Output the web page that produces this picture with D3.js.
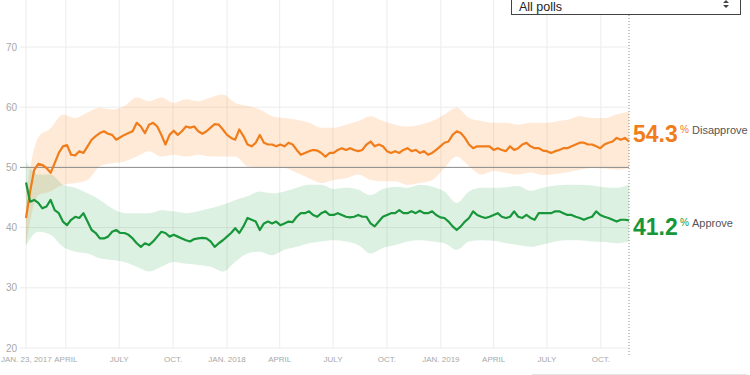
<!DOCTYPE html>
<html>
<head>
<meta charset="utf-8">
<script src="https://cdn.jsdelivr.net/npm/d3@7"></script>
<style>
  body { margin: 0; background: #fff; }
  svg { display: block; font-family: "Liberation Sans", Arial, sans-serif; }
</style>
</head>
<body>
<svg id="chart" width="750" height="375"></svg>
<script>
// Weekly averages starting Jan 23, 2017
const startDate = new Date(2017, 0, 23);
const approve = [
  47.5,44.3,44.6,44.1,43.2,43.5,44.6,42.9,42.4,41.0,
  40.4,41.3,41.8,41.6,42.4,41.0,39.6,39.1,38.2,38.2,
  38.5,39.3,39.6,39.1,39.1,38.8,38.2,37.4,36.8,37.4,
  37.1,37.7,38.5,39.3,39.1,38.5,38.8,38.5,38.2,37.9,
  37.7,38.1,38.2,38.3,38.2,37.7,36.8,37.4,37.9,38.5,
  39.1,39.9,39.1,40.2,41.6,41.3,41.0,39.6,40.7,41.0,
  40.7,41.0,40.4,40.7,41.0,40.9,41.8,42.4,42.4,42.7,
  42.1,41.8,42.4,42.7,42.1,42.1,42.4,42.1,41.8,41.7,
  41.8,42.1,41.8,41.8,40.7,40.2,41.0,41.8,42.1,42.4,
  42.4,42.9,42.4,42.4,42.7,42.4,42.8,42.4,42.4,42.7,
  42.1,41.7,41.6,41.0,40.2,39.6,40.2,41.0,41.6,42.7,
  42.1,41.8,41.6,41.8,42.1,42.4,41.8,41.6,41.8,42.7,
  41.8,41.6,42.1,41.6,41.3,42.4,42.4,42.4,42.4,42.7,
  42.7,42.4,42.1,42.1,41.8,41.6,41.3,41.6,41.8,42.7,
  42.1,41.8,41.6,41.3,41.0,41.3,41.3,41.2
];
const disapprove = [
  41.6,46.0,49.6,50.6,50.4,49.9,49.1,50.7,52.4,53.5,
  53.7,52.1,52.0,52.7,52.4,53.5,54.6,55.2,55.7,56.0,
  55.6,55.4,54.6,55.0,55.4,55.7,56.0,57.4,56.8,55.7,
  57.1,57.4,56.8,55.4,53.8,55.4,56.1,55.4,56.0,56.8,
  56.6,56.8,56.0,55.6,56.0,56.6,57.2,57.1,56.3,55.4,
  54.9,54.6,56.3,55.2,53.8,53.5,54.1,55.4,54.1,53.8,
  53.8,53.5,53.8,53.5,54.1,53.8,52.9,52.1,52.4,52.7,
  52.9,52.8,52.4,51.8,52.4,52.4,52.9,53.2,52.9,53.2,
  52.9,52.7,52.9,53.8,54.3,53.5,53.8,53.5,52.7,52.4,
  52.7,52.4,52.9,53.2,52.7,52.9,52.4,52.7,52.1,52.4,
  52.9,53.5,54.1,54.3,55.4,56.0,55.7,54.9,53.8,53.2,
  53.5,53.5,53.5,53.5,52.9,53.2,52.9,52.7,53.5,52.9,
  53.2,53.8,54.1,53.5,53.2,53.2,52.8,52.7,52.4,52.7,
  52.9,53.2,53.2,53.5,53.8,54.1,54.1,53.8,53.8,53.5,
  53.2,53.8,54.1,54.3,54.9,54.6,54.9,54.3
];

// Uncertainty bands, one value every 3 weeks
const disapproveHigh = [46,55,56.5,58.8,58.2,59.1,59.9,59.6,60.2,61.6, 61,61.6,60.7,61.3,61,61.6,62.1,60.7,60.2,59.6,
  58.5,58.2,57.9,57.4,56.6,56.6,57.1,57.7,58.5,57.7, 57.1,56.8,57.1,57.7,58.8,59.9,58.2,57.7,57.4,57.4,
  57.1,57.4,57.4,57.6,57.9,58.5,58.2,58.2,58.8,59.3];
const disapproveLow = [37,45.4,46,47.1,47.4,47.9,50.2,50.7,51,51.8, 52.7,51.8,52.1,51.8,52.1,51.8,51.8,51.8,50.2,50,
  49.9,49.9,49.1,48.2,47.4,47.9,48.2,48.8,47.9,47.7, 47.7,47.1,47.4,47.9,49.9,51.8,50.2,48.8,49.4,49.1,
  48.8,49.2,48.7,48.9,49.2,49.6,49.9,49.8,49.6,49.9];
const approveHigh = [51,48.8,48.8,47.1,46.6,45.7,44.6,43.2,42.4,42.4, 42.4,42.9,42.7,42.4,42.7,43.2,43.8,44.6,45.2,46,
  45.7,46,46.6,47.1,47.1,46.4,46.6,46.3,45.4,46.4, 46.8,46.6,47.1,46.8,46,44.1,46,46.6,46.6,46.7,
  46.9,46.1,46.6,47,47.1,47.1,47,46.7,46.6,47.1];
const approveLow = [37,39.3,38.8,36.8,36,35.7,34.9,34.6,34.3,33.5, 32.7,33.5,34.3,34,33.8,33.5,32.7,34.3,35.7,36,
  35.4,36.3,36.8,37.4,37.7,37.9,37.7,37.1,35.7,36.6, 37.1,37.7,37.9,37.7,37.4,36.3,37.7,37.9,37.8,37.4,
  37.1,36.8,37.2,37.7,37.9,37.9,37.7,37.6,37.4,37.7];

const yTicks = [20, 30, 40, 50, 60, 70];
const xTickDates = [
  new Date(2017, 0, 23), new Date(2017, 3, 1), new Date(2017, 6, 1), new Date(2017, 9, 1),
  new Date(2018, 0, 1), new Date(2018, 3, 1), new Date(2018, 6, 1), new Date(2018, 9, 1),
  new Date(2019, 0, 1), new Date(2019, 3, 1), new Date(2019, 6, 1), new Date(2019, 9, 1)
];
const xTickLabels = ["JAN. 23, 2017", "APRIL", "JULY", "OCT.", "JAN. 2018", "APRIL", "JULY", "OCT.",
  "JAN. 2019", "APRIL", "JULY", "OCT."];
const approveLabel = "41.2";
const disapproveLabel = "54.3";

const orange = "#f07d1a";
const green = "#17963a";

const svg = d3.select("#chart");
const endDate = d3.timeDay.offset(startDate, 7 * (approve.length - 1));

const x = d3.scaleTime().domain([startDate, endDate]).range([26, 629]);
const y = d3.scaleLinear().domain([20, 70]).range([348, 47]);

const weekDate = (i) => d3.timeDay.offset(startDate, 7 * i);
const bandDate = (i) => d3.timeDay.offset(startDate, 21 * i);

// Grid
svg.append("g")
  .selectAll("line")
  .data(yTicks)
  .enter()
  .append("line")
  .attr("x1", 20).attr("x2", x(endDate))
  .attr("y1", (d) => y(d)).attr("y2", (d) => y(d))
  .attr("stroke", "#ececec");

svg.append("g")
  .selectAll("line")
  .data(xTickDates)
  .enter()
  .append("line")
  .attr("x1", (d) => x(d)).attr("x2", (d) => x(d))
  .attr("y1", 0).attr("y2", y(20))
  .attr("stroke", "#ececec");

// Y labels
svg.append("g")
  .selectAll("text")
  .data(yTicks)
  .enter()
  .append("text")
  .attr("x", 17)
  .attr("y", (d) => y(d))
  .attr("dy", "0.35em")
  .attr("text-anchor", "end")
  .style("font-size", "10px")
  .style("fill", "#a8a8a8")
  .text((d) => d);

// X labels (first one pinned to the left edge)
svg.append("g")
  .selectAll("text")
  .data(xTickDates)
  .enter()
  .append("text")
  .attr("x", (d, i) => (i === 0 ? 1 : x(d)))
  .attr("y", 362)
  .attr("text-anchor", (d, i) => (i === 0 ? "start" : "middle"))
  .style("font-size", "8px")
  .style("fill", "#a8a8a8")
  .text((d, i) => xTickLabels[i]);

// Bands
const band = (hi, lo) => d3.area()
  .x((d, i) => x(bandDate(i)))
  .y0((d, i) => y(lo[i]))
  .y1((d, i) => y(hi[i]))
  .curve(d3.curveMonotoneX);

svg.append("path")
  .datum(disapproveHigh)
  .attr("d", band(disapproveHigh, disapproveLow))
  .attr("fill", "#ff7a10")
  .attr("fill-opacity", 0.17);

svg.append("path")
  .datum(approveHigh)
  .attr("d", band(approveHigh, approveLow))
  .attr("fill", "#18a040")
  .attr("fill-opacity", 0.15);

// 50% line
svg.append("line")
  .attr("x1", 20).attr("x2", x(endDate))
  .attr("y1", y(50)).attr("y2", y(50))
  .attr("stroke", "#8c8c8c")
  .attr("stroke-width", 1);

// Lines
const line = d3.line()
  .x((d, i) => x(weekDate(i)))
  .y((d) => y(d));

svg.append("path")
  .datum(disapprove)
  .attr("d", line)
  .attr("fill", "none")
  .attr("stroke", orange)
  .attr("stroke-width", 2.2)
  .attr("stroke-linejoin", "round");

svg.append("path")
  .datum(approve)
  .attr("d", line)
  .attr("fill", "none")
  .attr("stroke", green)
  .attr("stroke-width", 2.2)
  .attr("stroke-linejoin", "round");

// Today marker
svg.append("line")
  .attr("x1", x(endDate)).attr("x2", x(endDate))
  .attr("y1", 15).attr("y2", 355)
  .attr("stroke", "#8a8a8a")
  .attr("stroke-dasharray", "1,2");

// End labels
const endLabel = (value, color, name, baseY) => {
  const g = svg.append("g").attr("transform", `translate(${x(endDate) + 4}, ${baseY})`);
  g.append("text")
    .style("font-size", "23px")
    .style("font-weight", "bold")
    .style("fill", color)
    .text(value);
  g.append("text")
    .attr("x", 47).attr("y", -9)
    .style("font-size", "10px")
    .style("fill", color)
    .text("%");
  g.append("text")
    .attr("x", 59).attr("y", -8)
    .style("font-size", "11px")
    .style("fill", "#555")
    .text(name);
};
endLabel(disapproveLabel, orange, "Disapprove", 142);
endLabel(approveLabel, green, "Approve", 235);

// Dropdown
svg.append("rect")
  .attr("x", 511.5).attr("y", -5)
  .attr("width", 229).attr("height", 19.5)
  .attr("fill", "#fff")
  .attr("stroke", "#444");

svg.append("text")
  .attr("x", 519).attr("y", 11)
  .style("font-size", "12.5px")
  .style("fill", "#222")
  .text("All polls");

svg.append("path")
  .attr("d", "M723,3 L726,0 L729,3 Z M723,5 L729,5 L726,8 Z")
  .attr("fill", "#444");

// faint bottom edge
svg.append("line")
  .attr("x1", 532).attr("x2", 747)
  .attr("y1", 374.5).attr("y2", 374.5)
  .attr("stroke", "#e4e4e4");
</script>
</body>
</html>
